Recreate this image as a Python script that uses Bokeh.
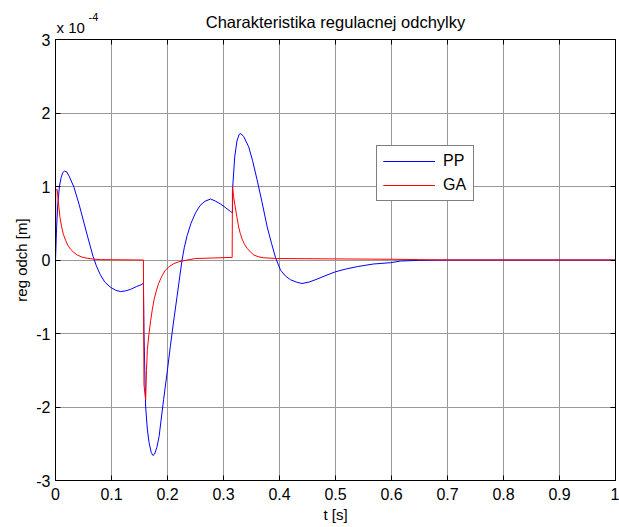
from bokeh.plotting import figure
from bokeh.models import LinearAxis, FixedTicker, Legend, LegendItem, Label
from bokeh.embed import file_html
from bokeh.resources import INLINE

# Data (values in units of 1e-4 m)
t_pp = [0.0, 0.002, 0.004, 0.007, 0.010, 0.013, 0.016, 0.020, 0.025, 0.033, 0.042, 0.050, 0.058,
        0.067, 0.073, 0.080, 0.088, 0.098, 0.107, 0.116, 0.125, 0.134, 0.145, 0.155, 0.157,
        0.158, 0.161, 0.164, 0.167, 0.171, 0.174, 0.177, 0.181, 0.185, 0.189, 0.193, 0.199,
        0.205, 0.211, 0.217, 0.222, 0.226, 0.230, 0.235, 0.242, 0.250, 0.258, 0.267, 0.277,
        0.286, 0.295, 0.304, 0.3125, 0.316, 0.3165, 0.320, 0.324, 0.328, 0.331, 0.336, 0.345,
        0.352, 0.360, 0.369, 0.378, 0.386, 0.393, 0.402, 0.411, 0.420, 0.430, 0.440, 0.453,
        0.467, 0.483, 0.500, 0.520, 0.539, 0.568, 0.598, 0.616, 0.650, 0.700, 1.0]
v_pp = [0.0, 0.45, 0.75, 1.0, 1.12, 1.19, 1.21, 1.20, 1.13, 0.99, 0.76, 0.53, 0.30,
        0.05, -0.08, -0.20, -0.30, -0.37, -0.41, -0.43, -0.42, -0.40, -0.36, -0.33, -0.31,
        -1.0, -2.0, -2.3, -2.48, -2.62, -2.66, -2.64, -2.55, -2.4, -2.15, -1.9, -1.55,
        -1.18, -0.83, -0.50, -0.22, 0.0, 0.17, 0.33, 0.50, 0.64, 0.74, 0.80, 0.83,
        0.80, 0.76, 0.71, 0.66, 0.64, 1.0, 1.40, 1.62, 1.71, 1.72, 1.68, 1.54,
        1.35, 1.09, 0.78, 0.45, 0.22, 0.03, -0.14, -0.22, -0.27, -0.30, -0.32, -0.30,
        -0.26, -0.21, -0.16, -0.12, -0.09, -0.054, -0.037, -0.014, -0.005, 0.0, 0.0]

t_ga = [0.0, 0.0005, 0.003, 0.006, 0.008, 0.011, 0.014, 0.018, 0.022, 0.027, 0.033, 0.039,
        0.047, 0.057, 0.068, 0.080, 0.157, 0.158, 0.161, 0.1625, 0.164, 0.167, 0.170, 0.173,
        0.176, 0.180, 0.184, 0.190, 0.196, 0.203, 0.211, 0.220, 0.229, 0.250, 0.3155, 0.316,
        0.318, 0.321, 0.324, 0.327, 0.330, 0.333, 0.337, 0.342, 0.348, 0.354, 0.362, 0.372,
        0.396, 0.500, 0.600, 0.700, 1.0]
v_ga = [0.0, 0.95, 0.96, 0.72, 0.58, 0.45, 0.35, 0.27, 0.20, 0.145, 0.10, 0.068,
        0.04, 0.023, 0.012, 0.005, 0.0, -1.7, -1.9, -1.5, -1.22, -1.0, -0.82, -0.67,
        -0.54, -0.42, -0.32, -0.22, -0.14, -0.09, -0.05, -0.025, -0.01, 0.02, 0.035, 1.0,
        0.86, 0.72, 0.58, 0.45, 0.36, 0.29, 0.22, 0.16, 0.11, 0.068, 0.045, 0.03,
        0.02, 0.015, 0.01, 0.0, 0.0]

x_ticks = [0, 0.1, 0.2, 0.3, 0.4, 0.5, 0.6, 0.7, 0.8, 0.9, 1]
x_tick_labels = ["0", "0.1", "0.2", "0.3", "0.4", "0.5", "0.6", "0.7", "0.8", "0.9", "1"]
y_ticks = [-3, -2, -1, 0, 1, 2, 3]
y_tick_labels = ["-3", "-2", "-1", "0", "1", "2", "3"]
y_top = y_ticks[-1]
x_mid = 0.5

TITLE = "Charakteristika regulacnej odchylky"
FONT = "Liberation Sans"
FS = "16px"
BLACK = "#000000"

p = figure(width=619, height=527, x_range=(0, 1), y_range=(-3, 3),
           output_backend="svg", toolbar_location=None,
           min_border_left=55, min_border_right=4, min_border_top=39, min_border_bottom=47)
p.background_fill_color = "white"
p.border_fill_color = "white"
p.outline_line_color = BLACK
p.outline_line_width = 1

def style_axis(ax):
    ax.axis_line_color = BLACK
    ax.axis_line_width = 1
    ax.major_tick_in = 5
    ax.major_tick_out = 0
    ax.minor_tick_line_color = None
    ax.major_tick_line_color = BLACK
    ax.major_label_text_font = FONT
    ax.major_label_text_color = BLACK
    ax.major_label_text_font_size = FS

xax = p.xaxis[0]
yax = p.yaxis[0]
xax.ticker = FixedTicker(ticks=x_ticks)
yax.ticker = FixedTicker(ticks=y_ticks)
xax.major_label_overrides = {tk: lb for tk, lb in zip(x_ticks, x_tick_labels)}
yax.major_label_overrides = {tk: lb for tk, lb in zip(y_ticks, y_tick_labels)}
style_axis(xax)
style_axis(yax)
xax.axis_label = "t [s]"
yax.axis_label = "reg odch [m]"
for ax in (xax, yax):
    ax.axis_label_text_font = FONT
    ax.axis_label_text_font_size = "15px"
    ax.axis_label_text_font_style = "normal"
    ax.axis_label_text_color = BLACK
    ax.axis_label_standoff = 3
xax.major_label_standoff = 7
yax.major_label_standoff = 5

top = LinearAxis(ticker=FixedTicker(ticks=x_ticks))
right = LinearAxis(ticker=FixedTicker(ticks=y_ticks))
for ax, ticks in ((top, x_ticks), (right, y_ticks)):
    style_axis(ax)
    ax.major_label_overrides = {tk: "" for tk in ticks}
    ax.major_label_standoff = 0
p.add_layout(top, "above")
p.add_layout(right, "right")

p.xgrid.ticker = FixedTicker(ticks=x_ticks)
p.ygrid.ticker = FixedTicker(ticks=y_ticks)
for g in (p.xgrid[0], p.ygrid[0]):
    g.grid_line_color = "#999999"
    g.grid_line_width = 1

r_pp = p.line(t_pp, v_pp, line_color="#0000ff", line_width=1)
r_ga = p.line(t_ga, v_ga, line_color="#ff0000", line_width=1)

legend = Legend(items=[LegendItem(label="PP", renderers=[r_pp, r_pp]),
                       LegendItem(label="GA", renderers=[r_ga, r_ga])],
                location=(321, 279))
legend.border_line_color = BLACK
legend.border_line_width = 1
legend.background_fill_color = "white"
legend.background_fill_alpha = 1
legend.label_text_font = FONT
legend.label_text_font_size = FS
legend.label_text_color = BLACK
legend.glyph_width = 52
legend.glyph_height = 16
legend.label_standoff = 8
legend.label_width = 24
legend.spacing = 6
legend.padding = 6
legend.margin = 0
legend.level = "overlay"
p.add_layout(legend, "center")

# Title and axis exponent "x 10^-4" as labels in side panels (not clipped to the frame)
title_lbl = Label(x=x_mid, y=y_top, text=TITLE, text_font=FONT, text_font_size="16.5px",
                  text_color=BLACK, text_align="center", text_baseline="alphabetic", y_offset=18)
exp_main = Label(x=0, y=y_top, text="x 10", text_font=FONT, text_font_size="15px",
                 text_color=BLACK, text_baseline="alphabetic", x_offset=1, y_offset=12)
exp_sup = Label(x=0, y=y_top, text="-4", text_font=FONT, text_font_size="11px",
                text_color=BLACK, text_baseline="alphabetic", x_offset=33, y_offset=23)
p.add_layout(title_lbl, "above")
p.add_layout(exp_main, "above")
p.add_layout(exp_sup, "left")

open("out.html", "w").write(file_html(p, INLINE))
